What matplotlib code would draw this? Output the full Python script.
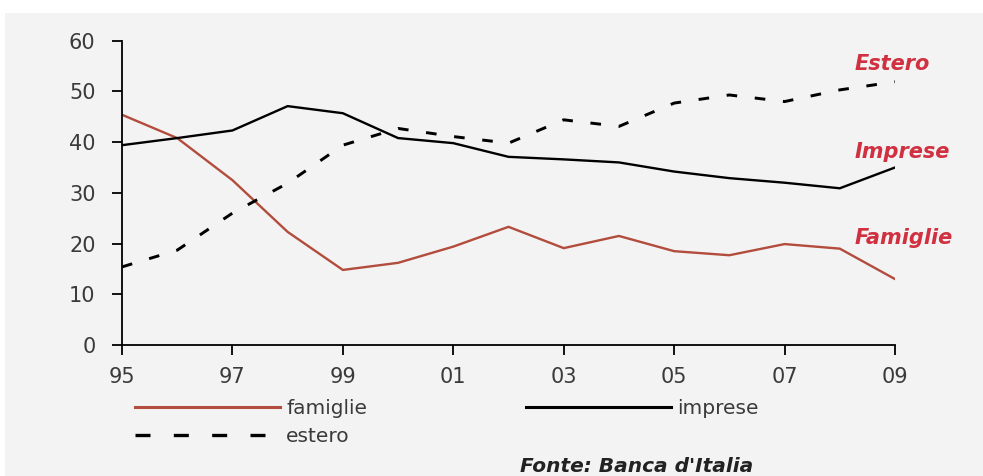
import matplotlib
matplotlib.use("Agg")
import matplotlib.pyplot as plt
from matplotlib.lines import Line2D
from matplotlib.patches import Rectangle

years = [1995, 1996, 1997, 1998, 1999, 2000, 2001, 2002, 2003, 2004, 2005, 2006, 2007, 2008, 2009]
famiglie = [45.4, 40.8, 32.5, 22.3, 14.8, 16.2, 19.4, 23.3, 19.1, 21.5, 18.5, 17.7, 19.9, 19.0, 13.0]
imprese = [39.4, 40.8, 42.3, 47.1, 45.7, 40.8, 39.8, 37.1, 36.6, 36.0, 34.2, 32.9, 32.0, 30.9, 35.0]
estero = [15.4, 18.7, 26.0, 31.9, 39.4, 42.7, 41.1, 39.8, 44.4, 43.1, 47.7, 49.3, 48.0, 50.3, 51.9]
xtick_pos = [1995, 1997, 1999, 2001, 2003, 2005, 2007, 2009]
xtick_labels = ["95", "97", "99", "01", "03", "05", "07", "09"]
yticks = [0, 10, 20, 30, 40, 50, 60]
series_labels = ["famiglie", "imprese", "estero"]
end_labels = ["Famiglie", "Imprese", "Estero"]
end_label_y = [21.1, 38.1, 55.5]

RED = "#b24c3c"
LABEL_RED = "#d0303f"
BG = "#f3f3f3"
TXT = "#3a3a3a"

W, H = 983, 476
fig = plt.figure(figsize=(W / 100, H / 100), dpi=100)
fig.patch.set_facecolor("white")
fig.patches.append(Rectangle((5 / W, 0), 1, 1 - 13 / H, transform=fig.transFigure,
                             facecolor=BG, edgecolor="none", zorder=-10))

ax = fig.add_axes([122 / W, 1 - 345 / H, (895 - 122) / W, (345 - 40.7) / H])
ax.set_facecolor("none")

lw = 1.7
ax.plot(years, famiglie, color=RED, lw=lw, solid_joinstyle="miter")
ax.plot(years, imprese, color="black", lw=lw, solid_joinstyle="miter")
ax.plot(years, estero, color="black", lw=lw * 1.25, linestyle=(0, (3.6, 6.0)))

ax.set_xlim(1995, 2009)
ax.set_ylim(0, 60)
ax.set_xticks(xtick_pos)
ax.set_xticklabels(xtick_labels)
ax.set_yticks(yticks)
for s in ["top", "right"]:
    ax.spines[s].set_visible(False)
for s in ["left", "bottom"]:
    ax.spines[s].set_linewidth(1.3)
ax.tick_params(axis="both", direction="out", length=7, width=1.3, colors="black",
               labelcolor=TXT, labelsize=15)
ax.tick_params(axis="x", pad=9)
ax.tick_params(axis="y", pad=12)
for lab in ax.get_xticklabels() + ax.get_yticklabels():
    lab.set_fontfamily("DejaVu Sans")

for txt, yv in zip(end_labels, end_label_y):
    ax.text(2008.27, yv, txt, color=LABEL_RED, fontsize=15, fontweight="bold",
            fontstyle="italic", family="DejaVu Sans", va="center", ha="left",
            clip_on=False)

handles = [
    Line2D([], [], color=RED, lw=2.2),
    Line2D([], [], color="black", lw=2.4, linestyle=(0, (4.5, 7))),
    Line2D([], [], color="black", lw=2.2),
]
labels = [series_labels[0], series_labels[2], series_labels[1]]
leg = fig.legend(handles, labels, ncol=2, loc="upper left",
                 bbox_to_anchor=(135 / W, 1 - 399 / H), frameon=False,
                 handlelength=7.2, handletextpad=0.3, columnspacing=7.9,
                 labelspacing=0.45, borderpad=0, borderaxespad=0,
                 prop={"family": "DejaVu Sans", "size": 14.5})
for t in leg.get_texts():
    t.set_color(TXT)

fig.text(520 / W, 1 - 466 / H, "Fonte: Banca d'Italia", fontsize=14.5, fontweight="bold",
         fontstyle="italic", family="DejaVu Sans", color="#222222",
         va="center", ha="left")

fig.savefig("out.png", dpi=100, facecolor=fig.get_facecolor())
